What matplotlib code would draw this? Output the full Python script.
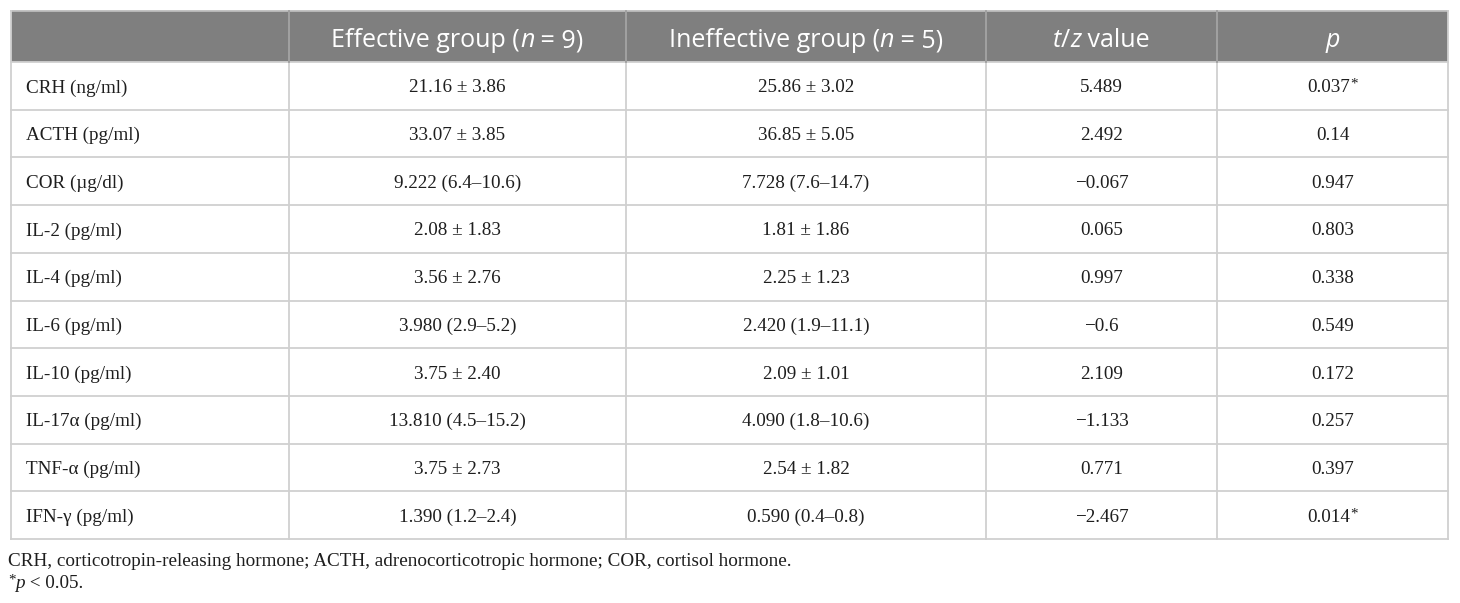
import matplotlib
matplotlib.use("Agg")
import matplotlib.pyplot as plt
from matplotlib.patches import Rectangle

# ---- data ----
headers = [None, [("Effective group (", "n"), ("n", "i"), (" = 9)", "n")],
           [("Ineffective group (", "n"), ("n", "i"), (" = 5)", "n")],
           [("t", "i"), ("/", "n"), ("z", "i"), (" value", "n")],
           [("p", "i")]]
row_labels = ["CRH (ng/ml)", "ACTH (pg/ml)", "COR (\u00b5g/dl)", "IL-2 (pg/ml)", "IL-4 (pg/ml)",
              "IL-6 (pg/ml)", "IL-10 (pg/ml)", "IL-17\u03b1 (pg/ml)", "TNF-\u03b1 (pg/ml)", "IFN-\u03b3 (pg/ml)"]
effective = ["21.16 \u00b1 3.86", "33.07 \u00b1 3.85", "9.222 (6.4\u201310.6)", "2.08 \u00b1 1.83",
             "3.56 \u00b1 2.76", "3.980 (2.9\u20135.2)", "3.75 \u00b1 2.40", "13.810 (4.5\u201315.2)",
             "3.75 \u00b1 2.73", "1.390 (1.2\u20132.4)"]
ineffective = ["25.86 \u00b1 3.02", "36.85 \u00b1 5.05", "7.728 (7.6\u201314.7)", "1.81 \u00b1 1.86",
               "2.25 \u00b1 1.23", "2.420 (1.9\u201311.1)", "2.09 \u00b1 1.01", "4.090 (1.8\u201310.6)",
               "2.54 \u00b1 1.82", "0.590 (0.4\u20130.8)"]
tz_values = ["5.489", "2.492", "\u22120.067", "0.065", "0.997", "\u22120.6", "2.109", "\u22121.133",
             "0.771", "\u22122.467"]
p_values = ["0.037*", "0.14", "0.947", "0.803", "0.338", "0.549", "0.172", "0.257", "0.397", "0.014*"]
footnote1 = "CRH, corticotropin-releasing hormone; ACTH, adrenocorticotropic hormone; COR, cortisol hormone."
footnote2 = [("p", "i"), (" < 0.05.", "n")]

# ---- layout ----
W, H = 1460, 603
col_edges = [11, 289, 626, 986, 1217, 1448]
top, header_bottom, bottom = 11, 62, 539
n_rows = len(row_labels)
row_h = (bottom - header_bottom) / n_rows

fig = plt.figure(figsize=(W / 100, H / 100), dpi=100)
ax = fig.add_axes([0, 0, 1, 1])
ax.set_xlim(0, W)
ax.set_ylim(H, 0)
ax.axis("off")

SANS = "Open Sans"
SERIF = "Liberation Serif"
grid_c = "#d0d0d0"
header_c = "#7f7f7f"
text_c = "#1e1e1e"

ax.add_patch(Rectangle((col_edges[0], top), col_edges[-1] - col_edges[0], header_bottom - top,
                       facecolor=header_c, edgecolor="none", zorder=1))
for i in range(n_rows + 1):
    y = header_bottom + i * row_h
    ax.plot([col_edges[0], col_edges[-1]], [y, y], color=grid_c, lw=1.3, zorder=2)
ax.plot([col_edges[0], col_edges[-1]], [top, top], color="#bdbdbd", lw=1.3, zorder=2)
for x in col_edges:
    ax.plot([x, x], [top, bottom], color=grid_c, lw=1.3, zorder=2)
for x in col_edges[1:-1]:
    ax.plot([x, x], [top, header_bottom], color="#9c9c9c", lw=1.3, zorder=3)

fig.canvas.draw()
renderer = fig.canvas.get_renderer()


def draw_runs(x, y, runs, family, size, color, ha="center"):
    objs = []
    for txt, st in runs:
        t = ax.text(0, y, txt, family=family, size=size, color=color,
                    style="italic" if st == "i" else "normal", va="center_baseline", ha="left", zorder=5)
        objs.append(t)
    widths = [t.get_window_extent(renderer=renderer).width for t in objs]
    total = sum(widths)
    cur = x - total / 2 if ha == "center" else x
    for t, w in zip(objs, widths):
        t.set_x(cur)
        cur += w
    return objs, total


header_y = (top + header_bottom) / 2 + 1
for j in range(1, 5):
    cx = (col_edges[j] + col_edges[j + 1]) / 2
    draw_runs(cx, header_y, headers[j], SANS, 18, "white")

body_size = 13.8
for i in range(n_rows):
    cy = header_bottom + (i + 0.5) * row_h
    ax.text(col_edges[0] + 15, cy, row_labels[i], family=[SERIF, "DejaVu Serif"], size=body_size,
            color=text_c, ha="left", va="center_baseline", zorder=5)
    for j, col in enumerate([effective, ineffective, tz_values, p_values], start=1):
        cx = (col_edges[j] + col_edges[j + 1]) / 2
        txt = col[i]
        if txt.endswith("*"):
            objs, w = draw_runs(cx - 4, cy, [(txt[:-1], "n")], SERIF, body_size, text_c)
            x0 = objs[0].get_position()[0]
            ax.text(x0 + w, cy - 3, "*", family=SERIF, size=body_size - 3, color=text_c,
                    ha="left", va="center_baseline", zorder=5)
        else:
            ax.text(cx, cy, txt, family=SERIF, size=body_size, color=text_c,
                    ha="center", va="center_baseline", zorder=5)

ax.text(col_edges[0] - 3, 560, footnote1, family=SERIF, size=body_size, color=text_c,
        ha="left", va="center_baseline")
t1 = ax.text(col_edges[0] - 3, 579, "*", family=SERIF, size=body_size - 3, color=text_c,
             ha="left", va="center_baseline")
w1 = t1.get_window_extent(renderer=renderer).width
draw_runs(col_edges[0] - 3 + w1, 582, footnote2, SERIF, body_size, text_c, ha="left")

fig.savefig("out.png", dpi=100)
